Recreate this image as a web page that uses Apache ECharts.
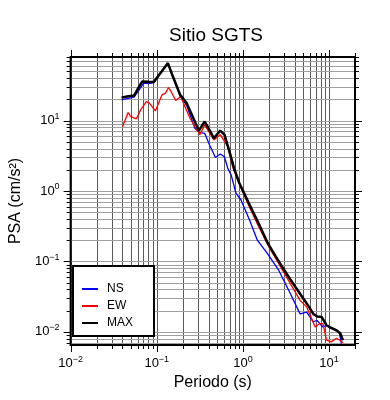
<!DOCTYPE html>
<html>
<head>
<meta charset="utf-8">
<script src="https://cdn.jsdelivr.net/npm/echarts@6/dist/echarts.min.js"></script>
<style>
  html, body { margin: 0; padding: 0; background: #fff; }
  #chart { width: 390px; height: 400px; }
</style>
</head>
<body>
<div id="chart"></div>
<script>
// periodos (s) y PSA (cm/s2)
const nsPeriod = [0.039, 0.045, 0.0545, 0.062, 0.071, 0.08, 0.0924, 0.11, 0.1347, 0.15, 0.187, 0.222, 0.277, 0.31, 0.36, 0.41, 0.48, 0.545, 0.61, 0.667, 0.73, 0.83, 0.95, 1.2, 1.47, 1.92, 2.6, 3.55, 4.6, 5.5, 6.56, 7.2, 8.5, 9.3, 10.5, 12.2, 13.2, 13.9];
const nsPsa = [19.7, 20.5, 21.5, 27, 34, 33.5, 34.5, 47, 65, 45, 22, 16.5, 7.8, 6.8, 6.6, 4.5, 3.0, 3.36, 3.07, 2.1, 1.69, 0.93, 0.745, 0.38, 0.2, 0.13, 0.075, 0.035, 0.018, 0.0191, 0.0138, 0.0146, 0.0117, 0.0124, 0.0112, 0.0105, 0.0095, 0.0068];

const ewPeriod = [0.04, 0.0465, 0.05, 0.058, 0.065, 0.0755, 0.082, 0.0964, 0.115, 0.126, 0.137, 0.15, 0.166, 0.19, 0.204, 0.243, 0.316, 0.36, 0.46, 0.545, 0.667, 0.76, 0.95, 1.2, 1.47, 2.0, 2.72, 3.5, 4.6, 5.5, 6.9, 7.8, 8.5, 9.33, 10.6, 12.2, 13.3, 14.5];
const ewPsa = [8.2, 13, 11.4, 10.6, 14.2, 18.6, 17.7, 13.7, 23.2, 24.5, 29.5, 24.5, 19.3, 22, 17.7, 10.8, 6.3, 8.7, 5.3, 6.3, 4.27, 2.2, 1.1, 0.58, 0.34, 0.16, 0.085, 0.05, 0.028, 0.0226, 0.0117, 0.0131, 0.0131, 0.0076, 0.0072, 0.0081, 0.0076, 0.007];

const maxPeriod = [0.039, 0.045, 0.0545, 0.06, 0.068, 0.08, 0.0924, 0.11, 0.1347, 0.15, 0.187, 0.222, 0.26, 0.308, 0.36, 0.43, 0.46, 0.545, 0.61, 0.7, 0.79, 0.91, 1.2, 1.5, 1.95, 2.4, 2.85, 3.4, 4.05, 5, 5.8, 6.56, 7.3, 8.2, 9.33, 10.5, 12.2, 13.5, 14.5];
const maxPsa = [21.2, 22, 22.7, 28, 35.9, 35.5, 35.2, 47, 65.5, 46, 23.2, 17.7, 11.5, 7.2, 9.7, 6.6, 5.6, 7.2, 6.3, 3.6, 2.1, 1.29, 0.63, 0.36, 0.18, 0.118, 0.084, 0.06, 0.0436, 0.03, 0.023, 0.018, 0.0165, 0.0163, 0.0124, 0.0115, 0.0105, 0.0095, 0.0076];

const xMin = 0.01, xMax = 20;
const yMin = 0.0065, yMax = 80;

function pairs(xs, ys) { return xs.map((x, i) => [x, ys[i]]); }

// lineas de la reticula log (1..9 por decada)
function logSteps(lo, hi) {
  const out = [];
  for (let k = -3; k <= 2; k++) {
    for (let m = 1; m <= 9; m++) {
      const v = m * Math.pow(10, k);
      if (v >= lo * 0.9999 && v <= hi * 1.0001) out.push([v, m === 1 ? 1 : 0]);
    }
  }
  return out;
}

function pow10Label(v) {
  const e = Math.round(Math.log10(v));
  if (Math.abs(Math.log10(v) - e) > 1e-6) return '';
  return '{b|10}{s|' + (e < 0 ? '\u2212' + (-e) : e) + '}';
}

const font = 'Liberation Sans, Arial, Helvetica, sans-serif';
const labelRich = {
  b: { fontSize: 13, fontFamily: font, color: '#000' },
  s: { fontSize: 9, fontFamily: font, color: '#000', padding: [0, 0, 8, 0] }
};

let chart = echarts.init(document.getElementById('chart'));

chart.setOption({
  animation: false,
  title: {
    text: 'Sitio SGTS',
    left: 211,
    top: 21,
    textAlign: 'center',
    textStyle: { fontSize: 19, fontWeight: 'normal', color: '#000', fontFamily: font }
  },
  legend: {
    data: ['NS', 'EW', 'MAX'],
    orient: 'vertical',
    left: 73,
    top: 266,
    padding: [17, 21, 7, 9],
    itemGap: 5,
    icon: 'rect',
    itemWidth: 16,
    itemHeight: 2,
    borderColor: '#000',
    borderWidth: 2,
    borderRadius: 0,
    backgroundColor: '#fff',
    textStyle: { fontSize: 12, color: '#000', fontFamily: font, padding: [0, 0, 0, 4] }
  },
  grid: { left: 67, top: 57, width: 288, height: 288, show: false },
  xAxis: {
    type: 'log',
    logBase: 10,
    min: xMin,
    max: xMax,
    name: 'Periodo (s)',
    nameLocation: 'middle',
    nameGap: 30,
    nameTextStyle: { fontSize: 16, color: '#000', fontFamily: font },
    axisLine: { show: false },
    axisTick: { show: false },
    splitLine: { show: false },
    axisLabel: { margin: 10, formatter: pow10Label, rich: labelRich, showMinLabel: true, showMaxLabel: false }
  },
  yAxis: {
    type: 'log',
    logBase: 10,
    min: yMin,
    max: yMax,
    name: 'PSA (cm/s\u00b2)',
    nameLocation: 'middle',
    nameGap: 40,
    nameTextStyle: { fontSize: 16, color: '#000', fontFamily: font },
    axisLine: { show: false },
    axisTick: { show: false },
    splitLine: { show: false },
    axisLabel: { margin: 11, formatter: pow10Label, rich: labelRich }
  },
  series: [
    {
      type: 'custom',
      silent: true,
      z: 1,
      data: logSteps(xMin, xMax).map(d => [d[0], yMin, d[1]]),
      encode: { x: 0, y: 1 },
      renderItem: function (params, api) {
        const v = api.value(0), major = api.value(2);
        const top = api.coord([v, yMax]), bot = api.coord([v, yMin]);
        const x = Math.round(top[0]) + 0.5;
        const len = major ? 6 : 3;
        return {
          type: 'group', children: [
            { type: 'line', shape: { x1: x, y1: top[1], x2: x, y2: bot[1] }, style: { stroke: '#5a5a5a', lineWidth: 1 } },
            { type: 'line', shape: { x1: x, y1: bot[1], x2: x, y2: bot[1] + len + 1 }, style: { stroke: '#000', lineWidth: 1 } },
            { type: 'line', shape: { x1: x, y1: top[1], x2: x, y2: top[1] - len - 1 }, style: { stroke: '#000', lineWidth: 1 } }
          ]
        };
      }
    },
    {
      type: 'custom',
      silent: true,
      z: 1,
      data: logSteps(yMin, yMax).map(d => [xMin, d[0], d[1]]),
      encode: { x: 0, y: 1 },
      renderItem: function (params, api) {
        const v = api.value(1), major = api.value(2);
        const l = api.coord([xMin, v]), r = api.coord([xMax, v]);
        const y = Math.round(l[1]) + 0.5;
        const len = major ? 6 : 3;
        return {
          type: 'group', children: [
            { type: 'line', shape: { x1: l[0], y1: y, x2: r[0], y2: y }, style: { stroke: '#a0a0a0', lineWidth: 1 } },
            { type: 'line', shape: { x1: l[0], y1: y, x2: l[0] - len - 1, y2: y }, style: { stroke: '#000', lineWidth: 1 } },
            { type: 'line', shape: { x1: r[0], y1: y, x2: r[0] + len + 1, y2: y }, style: { stroke: '#000', lineWidth: 1 } }
          ]
        };
      }
    },
    {
      name: 'NS', type: 'line', data: pairs(nsPeriod, nsPsa),
      showSymbol: false, symbol: 'none', z: 3,
      lineStyle: { color: '#0000ff', width: 1.3 }, itemStyle: { color: '#0000ff' }
    },
    {
      name: 'EW', type: 'line', data: pairs(ewPeriod, ewPsa),
      showSymbol: false, symbol: 'none', z: 3,
      lineStyle: { color: '#ff0000', width: 1.3 }, itemStyle: { color: '#ff0000' }
    },
    {
      name: 'MAX', type: 'line', data: pairs(maxPeriod, maxPsa),
      showSymbol: false, symbol: 'none', z: 3,
      lineStyle: { color: '#000', width: 2.5 }, itemStyle: { color: '#000' }
    },
    {
      type: 'custom',
      silent: true,
      z: 4,
      data: [[xMin, yMin]],
      encode: { x: 0, y: 1 },
      renderItem: function (params, api) {
        const a = api.coord([xMin, yMax]), b = api.coord([xMax, yMin]);
        return {
          type: 'rect',
          shape: { x: a[0], y: a[1], width: b[0] - a[0], height: b[1] - a[1] },
          style: { fill: 'none', stroke: '#000', lineWidth: 2 }
        };
      }
    }
  ]
});
</script>
</body>
</html>
